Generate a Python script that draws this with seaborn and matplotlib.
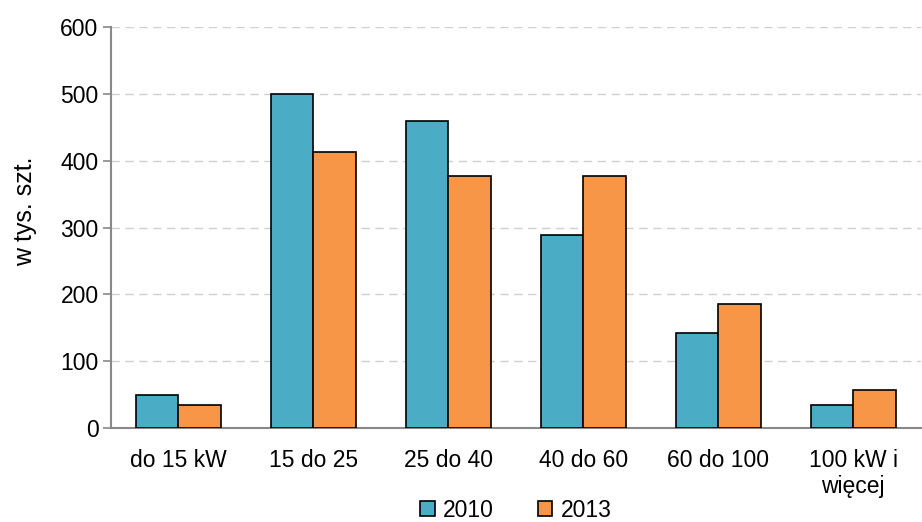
import pandas as pd
import numpy as np
import matplotlib
matplotlib.use("Agg")
import matplotlib.pyplot as plt
import seaborn as sns

# Values (w tys. szt.)
categories = ['do 15 kW', '15 do 25', '25 do 40', '40 do 60', '60 do 100', '100 kW i\nwięcej']
years = ['2010', '2013']
values_2010 = [49, 500, 459, 289, 142, 34]
values_2013 = [34, 413, 377, 377, 186, 57]
colors = ['#4BACC6', '#F79646']

df = pd.DataFrame({
    'Kategoria': categories * 2,
    'Rok': [years[0]] * len(categories) + [years[1]] * len(categories),
    'Wartosc': values_2010 + values_2013,
})

sns.set_style("white")
plt.rcParams['font.family'] = ['Liberation Sans', 'DejaVu Sans']
plt.rcParams['text.color'] = 'black'
plt.rcParams['xtick.color'] = 'black'
plt.rcParams['ytick.color'] = 'black'
plt.rcParams['axes.labelcolor'] = 'black'

fig = plt.figure(figsize=(9.22, 5.22), dpi=100)
ax = fig.add_axes([0.1204, 0.18, 0.878, 0.768])

sns.barplot(data=df, x='Kategoria', y='Wartosc', hue='Rok', order=categories,
            hue_order=years, palette=colors, width=0.63, edgecolor='black',
            linewidth=1.2, saturation=1, ax=ax, zorder=3)

ax.set_ylim(0, 600)
ax.set_xlim(-0.5, len(categories) - 0.5)
ax.set_yticks(range(0, 601, 100))
ax.yaxis.grid(True, color='#d0d0d0', linestyle=(0, (6, 4)), linewidth=1, zorder=0)
ax.set_axisbelow(True)

# category boundary ticks on x axis
ax.set_xticks(np.arange(-0.5, len(categories), 1), minor=True)
ax.tick_params(axis='x', which='minor', length=6, color='#888888', width=1.2, direction='out')
ax.tick_params(axis='x', which='major', length=0, pad=15, labelsize=16.5, labelcolor='black')
ax.tick_params(axis='y', length=6, color='#888888', width=1.2, direction='out',
               labelsize=16.5, pad=3, labelcolor='black')
ax.tick_params(left=True, bottom=True)
for lbl in ax.get_xticklabels():
    lbl.set_linespacing(1.15)

for side in ['top', 'right']:
    ax.spines[side].set_visible(False)
for side in ['left', 'bottom']:
    ax.spines[side].set_color('#888888')
    ax.spines[side].set_linewidth(1.5)

ax.set_xlabel('')
ax.set_ylabel('w tys. szt.', fontsize=18, color='black')
ax.yaxis.set_label_coords(-0.092, 0.54)

leg = ax.legend(loc='center', bbox_to_anchor=(0.5, -0.205), ncol=2, frameon=False,
                fontsize=16.5, handlelength=0.65, handleheight=0.65, handletextpad=0.35,
                columnspacing=1.9, borderaxespad=0)

fig.savefig('out.png', dpi=100)
